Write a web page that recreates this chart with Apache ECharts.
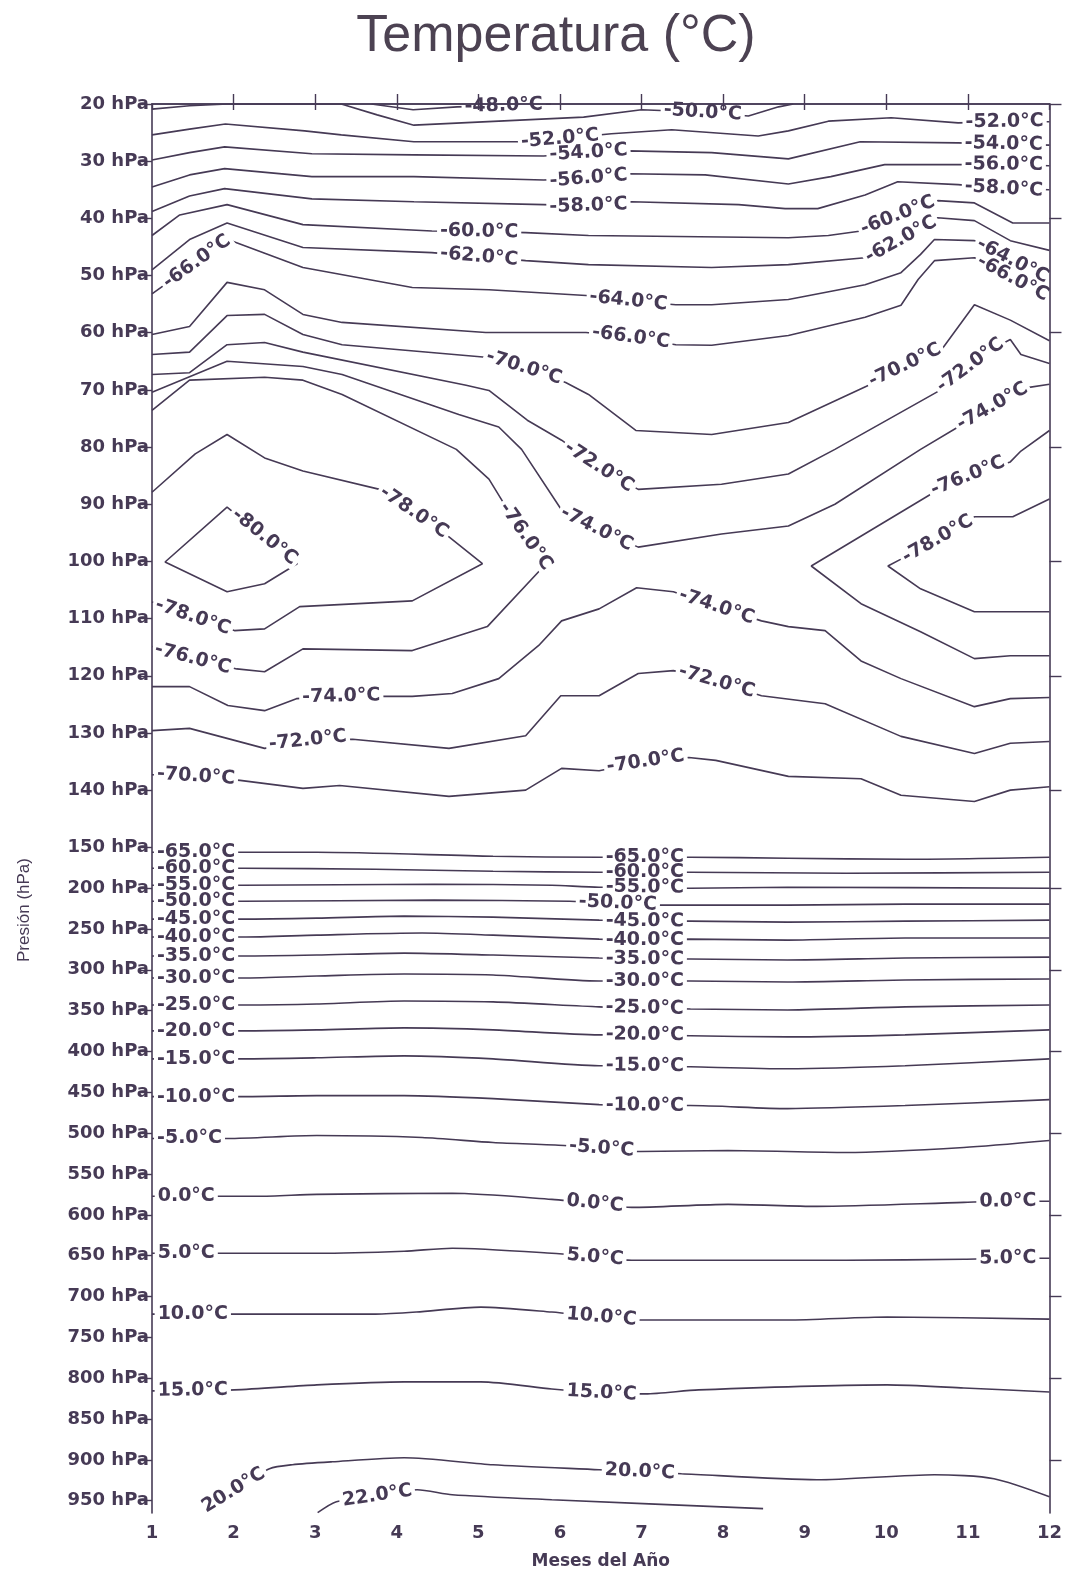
<!DOCTYPE html>
<html>
<head>
<meta charset="utf-8">
<script src="https://cdn.jsdelivr.net/npm/echarts@6/dist/echarts.min.js"></script>
<style>
  html, body { margin: 0; padding: 0; background: #ffffff; }
  #chart { width: 1065px; height: 1575px; }
</style>
</head>
<body>
<div id="chart"></div>
<script>
// ---- axes ---------------------------------------------------------------
const months = [1, 2, 3, 4, 5, 6, 7, 8, 9, 10, 11, 12];
const topTickMonths = [2, 3, 4, 5, 6, 7, 8, 9, 10, 11];
const pressureTicks = [20, 30, 40, 50, 60, 70, 80, 90, 100, 110, 120, 130, 140,
  150, 200, 250, 300, 350, 400, 450, 500, 550, 600, 650, 700, 750, 800, 850, 900, 950];
const rightTicks = [20, 40, 60, 80, 100, 120, 140, 200, 300, 400, 500, 600, 700, 800, 900];
const pressureBottom = 965;

// ---- isotherms: [month, pressure hPa] ----------------------------------
const iso_n48 = [[3.69,20],[4.20,21.0],[4.74,20.5],[5.31,20.3],[5.89,20]];
const iso_n50 = [[1.00,20.9],[1.46,20.3],[1.93,20],[3.32,20],[3.76,21.9],[4.21,23.7],[5.25,23.0],[6.29,22.3],[7.00,21.0],[7.70,21.4],[8.31,22.1],[8.68,20.5],[8.86,20]];
const iso_n52 = [[1.00,25.4],[1.46,24.4],[1.90,23.5],[2.87,24.7],[3.32,25.4],[4.21,26.6],[5.52,26.6],[5.99,26.1],[6.63,25.2],[7.37,24.5],[8.43,25.6],[8.80,24.7],[9.29,23.0],[10.06,22.4],[10.88,23.3],[11.45,23.1],[12,23.1]];
const iso_n54 = [[1.00,29.8],[1.46,28.5],[1.89,27.5],[2.96,28.7],[4.21,28.9],[5.80,29.1],[6.35,28.5],[6.84,28.2],[7.86,28.5],[8.80,29.6],[9.68,26.6],[10.88,26.8],[11.44,27.0],[12,27.2]];
const iso_n56 = [[1.00,34.5],[1.46,32.4],[1.89,31.3],[2.96,32.7],[4.21,32.7],[5.80,33.3],[6.35,33.0],[6.84,32.2],[7.78,32.4],[8.80,34.0],[9.32,32.7],[9.98,30.6],[10.88,30.6],[11.44,30.6],[12,30.8]];
const iso_n58 = [[1.00,38.8],[1.46,36.1],[1.89,34.8],[2.96,36.6],[4.21,37.1],[5.80,37.6],[6.35,37.8],[6.88,37.1],[8.19,37.6],[8.76,38.3],[9.16,38.3],[9.74,35.9],[10.14,33.6],[10.88,34.1],[11.44,34.8],[12,35.0]];
const iso_n60 = [[1.00,43.0],[1.34,39.4],[1.92,37.6],[2.85,41.1],[4.43,42.2],[5.01,42.3],[5.58,42.5],[6.35,43.0],[8.80,43.4],[9.29,43.0],[9.69,42.2],[10.14,39.5],[10.63,36.9],[11.08,37.3],[11.55,40.8],[12,40.8]];
const iso_n62 = [[1.00,49.0],[1.46,43.7],[1.92,40.8],[2.85,45.1],[4.43,46.0],[5.01,46.7],[5.58,47.4],[6.35,48.1],[7.86,48.6],[8.80,48.1],[9.74,46.9],[10.18,43.7],[10.63,39.9],[11.08,40.4],[11.52,43.9],[12,45.6]];
const iso_n66a = [[1.00,53.2],[1.93,43.7]];
const iso_n64 = [[1.93,43.7],[2.85,48.6],[4.19,52.1],[5.13,52.5],[6.32,53.5],[6.84,54.4],[7.42,55.1],[7.86,55.1],[8.80,54.2],[9.74,51.6],[10.18,49.5],[10.42,46.3],[10.59,43.7],[11.08,43.9],[11.55,47.4],[12,50.7]];
const iso_n66b = [[1.00,60.3],[1.46,58.9],[1.92,51.2],[2.38,52.5],[2.85,56.8],[3.33,58.2],[5.09,59.96],[6.32,59.96],[6.87,60.8],[7.42,62.1],[7.86,62.2],[8.80,60.5],[9.74,57.3],[10.18,55.2],[10.39,50.7],[10.59,47.4],[11.08,46.9],[11.55,50.5],[12,53.9]];
const iso_n70a = [[1.00,63.8],[1.46,63.4],[1.92,57.0],[2.38,56.8],[2.85,60.3],[3.33,62.1],[5.09,64.3],[5.56,66.1],[6.07,68.7],[6.35,70.8],[6.93,77.1],[7.86,77.8],[8.80,75.7],[9.81,69.0],[10.23,65.7],[10.67,63.1],[11.08,55.1],[11.52,57.8],[12,61.4]];
const iso_n72a = [[1.00,67.3],[1.46,67.0],[1.92,62.1],[2.38,61.7],[2.85,63.4],[4.85,69.2],[5.13,70.1],[5.60,75.3],[6.02,78.8],[6.48,83.5],[6.96,87.4],[7.98,86.5],[8.80,84.7],[9.37,80.4],[10.63,70.3],[11.03,65.7],[11.45,61.7],[11.52,61.2],[11.65,63.8],[12,65.4]];
const iso_n74a = [[1.00,70.4],[1.92,65.0],[2.85,65.9],[3.33,67.3],[4.76,74.3],[5.25,76.5],[5.53,80.4],[6.01,90.8],[6.45,94.3],[6.96,97.5],[7.98,95.2],[8.80,93.8],[9.37,90.0],[10.42,80.4],[10.88,76.5],[11.30,72.9],[11.73,69.6],[12,69.0]];
const iso_n76a = [[1.00,73.6],[1.46,68.3],[2.38,67.8],[2.85,68.3],[3.33,70.8],[4.73,80.4],[5.13,85.6],[5.34,90.5],[5.58,95.6],[5.83,100.4],[5.11,111.4],[4.19,115.6],[2.85,115.3],[2.38,119.3],[2.04,118.8],[1.50,117.0],[1.00,114.9]];
const iso_n76b = [[12,77.1],[11.65,80.7],[11.52,82.6],[11.00,85.1],[10.55,88.2],[9.08,100.8],[9.69,107.4],[10.42,112.3],[11.08,117.0],[11.52,116.5],[12,116.5]];
const iso_n78a = [[1.00,87.9],[1.53,81.2],[1.92,77.8],[2.38,81.9],[2.85,84.2],[3.79,87.4],[4.21,91.4],[4.64,95.7],[5.05,100.4],[4.19,106.9],[2.81,107.9],[2.38,111.8],[2.01,112.1],[1.50,109.7],[1.00,107.1]];
const iso_n78b = [[12,89.1],[11.55,92.2],[11.08,92.2],[10.63,96.1],[10.18,99.6],[10.02,100.8],[10.42,104.8],[11.08,108.8],[12,108.8]];
const iso_n80 = [[1.98,91.2],[1.92,90.5],[1.16,100.1],[1.92,105.3],[2.38,103.9],[2.78,100.4],[2.38,95.7],[1.98,91.2]];
const iso_n74b = [[1.00,121.9],[1.46,121.9],[1.93,125.2],[2.38,126.1],[2.77,124.0],[3.32,123.6],[3.88,123.6],[4.19,123.6],[4.68,123.1],[5.25,120.5],[5.74,114.7],[6.02,110.4],[6.48,108.3],[6.94,104.6],[7.39,105.3],[7.92,107.9],[8.47,110.4],[8.80,111.4],[9.25,112.1],[9.69,117.4],[10.18,120.5],[11.08,125.4],[11.52,124.0],[12,123.8]];
const iso_n72b = [[1.00,129.6],[1.46,129.2],[2.38,132.7],[2.91,131.3],[3.46,131.1],[4.64,132.7],[5.58,130.5],[6.01,123.5],[6.48,123.5],[6.96,119.6],[7.39,119.1],[7.92,121.0],[8.47,123.5],[9.25,124.9],[10.18,130.6],[11.08,133.6],[11.52,131.8],[12,131.5]];
const iso_n70b = [[1.00,137.3],[1.54,137.6],[2.08,138.3],[2.85,139.7],[3.30,139.2],[4.64,141.1],[5.58,140.0],[6.02,136.2],[6.48,136.6],[7.05,135.0],[7.58,134.3],[7.91,134.8],[8.80,137.6],[9.69,138.0],[10.18,140.9],[11.08,142.0],[11.52,140.0],[12,139.4]];
const iso_n65 = [[1.00,156.1],[2.11,156.1],[3.02,156.1],[5.18,161.0],[6.48,162.2],[7.04,162.2],[7.60,162.2],[8.79,163.4],[10.23,164.7],[12,162.2]];
const iso_n60t = [[1.00,175.6],[2.11,175.6],[3.74,176.9],[5.18,179.3],[6.48,180.5],[7.04,180.5],[7.60,180.5],[9.51,181.8],[12,180.5]];
const iso_n55 = [[1.00,196.4],[2.11,196.4],[4.46,195.2],[5.90,196.4],[6.48,198.9],[7.04,198.9],[7.60,200.1],[8.79,198.9],[12,200.1]];
const iso_n50t = [[1.00,216.0],[2.11,216.0],[4.46,214.7],[6.12,216.0],[6.71,218.4],[7.27,220.8],[8.79,220.8],[10.23,219.6],[12,219.6]];
const iso_n45 = [[1.00,237.9],[2.11,237.9],[3.02,236.7],[4.09,234.3],[5.18,235.5],[6.48,239.2],[7.04,240.4],[7.60,240.4],[8.79,241.6],[10.23,240.4],[12,239.2]];
const iso_n40 = [[1.00,259.9],[2.11,259.9],[3.02,257.5],[4.31,255.0],[5.18,257.5],[6.48,262.4],[7.04,263.6],[7.60,262.4],[8.79,263.6],[10.23,261.1],[12,261.1]];
const iso_n35 = [[1.00,283.1],[2.11,283.1],[3.02,281.9],[4.09,279.5],[5.18,281.9],[6.48,285.6],[7.04,286.8],[7.60,286.8],[8.79,288.0],[10.23,285.6],[12,284.4]];
const iso_n30 = [[1.00,310.0],[2.11,310.0],[3.02,307.6],[4.09,305.1],[5.18,306.3],[6.48,313.7],[7.04,313.7],[7.60,313.7],[8.79,314.9],[10.23,312.4],[12,311.2]];
const iso_n25 = [[1.00,343.0],[2.11,343.0],[3.02,341.8],[4.09,338.1],[5.18,339.3],[6.48,345.4],[7.04,346.7],[7.60,347.9],[8.79,349.1],[10.23,345.4],[12,343.0]];
const iso_n20 = [[1.00,374.7],[2.11,374.7],[3.02,373.5],[4.09,371.1],[5.18,373.5],[6.48,379.6],[7.04,379.6],[7.60,380.8],[8.79,382.1],[10.23,379.6],[12,373.5]];
const iso_n15 = [[1.00,409.0],[2.11,409.0],[3.02,407.7],[4.09,405.3],[5.18,409.0],[6.48,417.5],[7.04,417.5],[7.60,418.7],[8.79,421.2],[10.23,417.5],[12,409.0]];
const iso_n10 = [[1.00,455.2],[2.11,455.2],[3.02,454.0],[4.09,454.0],[5.18,457.7],[6.48,465.0],[7.04,466.2],[7.60,466.2],[8.79,469.9],[10.23,466.2],[12,458.9]];
const iso_n5 = [[1.00,506.5],[1.93,506.5],[3.02,502.9],[4.31,505.3],[5.18,511.4],[6.05,515.1],[6.51,518.7],[6.99,522.4],[8.06,521.2],[9.51,523.6],[10.95,517.5],[12,509.0]];
const iso_0 = [[1.00,577.3],[1.83,577.3],[2.30,577.3],[3.02,574.9],[4.68,573.6],[5.90,581.0],[6.43,585.9],[6.88,590.8],[8.06,587.1],[9.15,589.6],[10.95,584.7],[11.49,583.4],[12,583.4]];
const iso_5 = [[1.00,647.0],[1.83,647.0],[3.02,647.0],[4.09,644.5],[4.68,640.9],[5.90,647.0],[6.43,651.8],[6.88,655.5],[8.06,655.5],[9.51,655.5],[10.95,654.3],[11.49,653.1],[12,653.1]];
const iso_10 = [[1.00,721.5],[2.01,721.5],[3.74,721.5],[4.24,719.0],[5.03,712.9],[5.90,719.0],[6.51,725.1],[7.05,728.8],[8.79,728.8],[10.01,725.1],[12,727.6]];
const iso_15 = [[1.00,815.5],[2.01,814.3],[3.02,808.2],[4.09,804.5],[5.03,804.5],[5.90,813.1],[6.51,818.0],[7.05,819.2],[7.70,814.3],[10.01,808.2],[10.95,811.9],[12,816.8]];
const iso_20 = [[1.70,956.0],[2.03,935.3],[2.44,910.8],[2.72,905.9],[3.21,902.3],[4.09,897.4],[5.18,905.9],[6.48,912.1],[6.98,914.5],[7.49,916.9],[9.15,924.3],[10.59,918.1],[11.32,923.0],[12,945.1]];
const iso_22 = [[3.03,964.6],[3.26,951.2],[3.76,943.9],[4.25,936.5],[4.68,942.6],[5.90,948.7],[8.49,959.7]];

// value, line, label anchors (m: month on the line, v: vertex index), smooth
const pieces = [
  [-48, iso_n48, [{m: 5.31}], false],
  [-50, iso_n50, [{m: 7.75}], false],
  [-52, iso_n52, [{m: 6.0}, {m: 11.45}], false],
  [-54, iso_n54, [{m: 6.35}, {m: 11.44}], false],
  [-56, iso_n56, [{m: 6.35}, {m: 11.44}], false],
  [-58, iso_n58, [{m: 6.35}, {m: 11.44}], false],
  [-60, iso_n60, [{m: 5.01}, {m: 10.14}], false],
  [-62, iso_n62, [{m: 5.01}, {m: 10.18}], false],
  [-66, iso_n66a, [{m: 1.55}], false],
  [-64, iso_n64, [{m: 6.84}, {m: 11.55}], false],
  [-66, iso_n66b, [{m: 6.87}, {m: 11.55}], false],
  [-70, iso_n70a, [{m: 5.56}, {m: 10.23}], false],
  [-72, iso_n72a, [{m: 6.48}, {m: 11.03}], false],
  [-74, iso_n74a, [{m: 6.45}, {m: 11.30}], false],
  [-76, iso_n76a, [{v: 8}, {v: 15}], false],
  [-76, iso_n76b, [{v: 3}], false],
  [-78, iso_n78a, [{v: 6}, {v: 13}], false],
  [-78, iso_n78b, [{v: 3}], false],
  [-80, iso_n80, [{v: 6}], false],
  [-74, iso_n74b, [{m: 3.32}, {m: 7.92}], false],
  [-72, iso_n72b, [{m: 2.91}, {m: 7.92}], false],
  [-70, iso_n70b, [{m: 1.54}, {m: 7.05}], false],
  [-65, iso_n65, [{m: 1.54}, {m: 7.04}], true],
  [-60, iso_n60t, [{m: 1.54}, {m: 7.04}], true],
  [-55, iso_n55, [{m: 1.54}, {m: 7.04}], true],
  [-50, iso_n50t, [{m: 1.54}, {m: 6.71}], true],
  [-45, iso_n45, [{m: 1.54}, {m: 7.04}], true],
  [-40, iso_n40, [{m: 1.54}, {m: 7.04}], true],
  [-35, iso_n35, [{m: 1.54}, {m: 7.04}], true],
  [-30, iso_n30, [{m: 1.54}, {m: 7.04}], true],
  [-25, iso_n25, [{m: 1.54}, {m: 7.04}], true],
  [-20, iso_n20, [{m: 1.54}, {m: 7.04}], true],
  [-15, iso_n15, [{m: 1.54}, {m: 7.04}], true],
  [-10, iso_n10, [{m: 1.54}, {m: 7.04}], true],
  [-5, iso_n5, [{m: 1.46}, {m: 6.51}], true],
  [0, iso_0, [{m: 1.42}, {m: 6.43}, {m: 11.49}], true],
  [5, iso_5, [{m: 1.42}, {m: 6.43}, {m: 11.49}], true],
  [10, iso_10, [{m: 1.50}, {m: 6.51}], true],
  [15, iso_15, [{m: 1.50}, {m: 6.51}], true],
  [20, iso_20, [{m: 2.0}, {m: 6.98}], true],
  [22, iso_22, [{m: 3.76}], true]
];

// ---- pressure scale: 10 hPa = 7 units above 150 hPa, 50 hPa = 5 units below
function pos(p) { return p <= 150 ? (p - 20) * 0.7 : 91 + (p - 150) * 0.1; }
function pressureAt(v) { return v <= 91 ? 20 + v / 0.7 : 150 + (v - 91) / 0.1; }

const INK = '#463a55';
const LABEL_FONT = 'bold 19px "DejaVu Sans"';

function interpAt(pts, m) {
  for (let i = 0; i < pts.length - 1; i++) {
    const a = pts[i], b = pts[i + 1];
    const lo = Math.min(a[0], b[0]), hi = Math.max(a[0], b[0]);
    if (m >= lo && m <= hi) {
      const t = b[0] === a[0] ? 0 : (m - a[0]) / (b[0] - a[0]);
      return [m, a[1] + t * (b[1] - a[1])];
    }
  }
  return pts[pts.length - 1];
}

const lineSeries = [];
const labelData = [];
const labelMeta = [];
pieces.forEach(([val, pts, anchors, smooth]) => {
  const line = pts.map(d => [d[0], pos(d[1])]);
  lineSeries.push({
    type: 'line', data: line, showSymbol: false, symbol: 'none',
    smooth: smooth ? 0.25 : false, silent: true, z: 2, animation: false,
    lineStyle: { color: INK, width: 1.6 }
  });
  const xs = line.map(d => d[0]);
  const xmin = Math.min(...xs), xmax = Math.max(...xs);
  const text = val.toFixed(1) + '°C';
  anchors.forEach(an => {
    let c, a, b;
    if (an.m !== undefined) {
      c = interpAt(line, an.m);
      a = interpAt(line, Math.max(an.m - 0.4, xmin));
      b = interpAt(line, Math.min(an.m + 0.4, xmax));
    } else {
      c = line[an.v];
      a = line[an.v - 1];
      b = line[an.v + 1];
    }
    labelData.push([c[0], c[1]]);
    labelMeta.push({ text, a, b });
  });
});

const labelSeries = {
  type: 'custom', data: labelData, z: 5, silent: true, animation: false,
  encode: { x: 0, y: 1 },
  renderItem: (params, api) => {
    const meta = labelMeta[params.dataIndex];
    const c = api.coord([api.value(0), api.value(1)]);
    const pa = api.coord(meta.a), pb = api.coord(meta.b);
    let ang = Math.atan2(pb[1] - pa[1], pb[0] - pa[0]);
    if (ang > Math.PI / 2) ang -= Math.PI;
    if (ang < -Math.PI / 2) ang += Math.PI;
    return {
      type: 'text', x: c[0], y: c[1], rotation: -ang,
      style: {
        text: meta.text, fill: INK, font: LABEL_FONT,
        textAlign: 'center', textVerticalAlign: 'middle',
        backgroundColor: '#ffffff', padding: [0, 3]
      }
    };
  }
};

const tickPos = pressureTicks.map(pos);
const rightPos = rightTicks.map(pos);
const axisLineStyle = { color: INK, width: 1.6 };
const tickStyle = { color: INK, width: 1.4 };

const chart = echarts.init(document.getElementById('chart'));
chart.setOption({
  backgroundColor: '#ffffff',
  animation: false,
  title: {
    text: 'Temperatura (°C)', left: 551, top: 6, textAlign: 'center',
    textStyle: { fontFamily: 'Liberation Sans', fontWeight: 'normal', fontSize: 52, color: '#4c4252' }
  },
  grid: { left: 152, right: 13, top: 104, bottom: 59, containLabel: false },
  xAxis: [
    {
      type: 'value', min: 1, max: 12, interval: 1, position: 'bottom', z: 10,
      axisLine: { lineStyle: axisLineStyle },
      axisTick: { length: 6, lineStyle: tickStyle },
      axisLabel: { color: INK, fontFamily: 'DejaVu Sans', fontWeight: 'bold', fontSize: 18, margin: 11,
        formatter: v => (months.includes(v) ? String(v) : '') },
      splitLine: { show: false },
      name: 'Meses del Año', nameLocation: 'middle', nameGap: 40,
      nameTextStyle: { color: INK, fontFamily: 'DejaVu Sans', fontWeight: 'bold', fontSize: 17 }
    },
    {
      type: 'value', min: 1, max: 12, position: 'top', z: 10,
      axisLine: { lineStyle: axisLineStyle },
      axisTick: { customValues: topTickMonths, length: 10, lineStyle: tickStyle },
      axisLabel: { show: false },
      splitLine: { show: false }
    }
  ],
  yAxis: [
    {
      type: 'value', inverse: true, min: 0, max: pos(pressureBottom), position: 'left', z: 10,
      axisLine: { lineStyle: axisLineStyle },
      axisTick: { customValues: tickPos, length: 12, lineStyle: tickStyle },
      axisLabel: { customValues: tickPos, margin: 3, color: INK, fontFamily: 'DejaVu Sans',
        fontWeight: 'bold', fontSize: 18,
        formatter: v => Math.round(pressureAt(v)) + ' hPa' },
      splitLine: { show: false }
    },
    {
      type: 'value', inverse: true, min: 0, max: pos(pressureBottom), position: 'right', z: 10,
      axisLine: { lineStyle: axisLineStyle },
      axisTick: { customValues: rightPos, length: 12, lineStyle: tickStyle },
      axisLabel: { show: false },
      splitLine: { show: false }
    }
  ],
  graphic: [{
    type: 'text', x: 24, y: 910, rotation: Math.PI / 2, silent: true,
    style: { text: 'Presión (hPa)', font: '17px "Liberation Sans"', fill: INK,
      textAlign: 'center', textVerticalAlign: 'middle' }
  }],
  series: [...lineSeries, labelSeries]
});
</script>
</body>
</html>
